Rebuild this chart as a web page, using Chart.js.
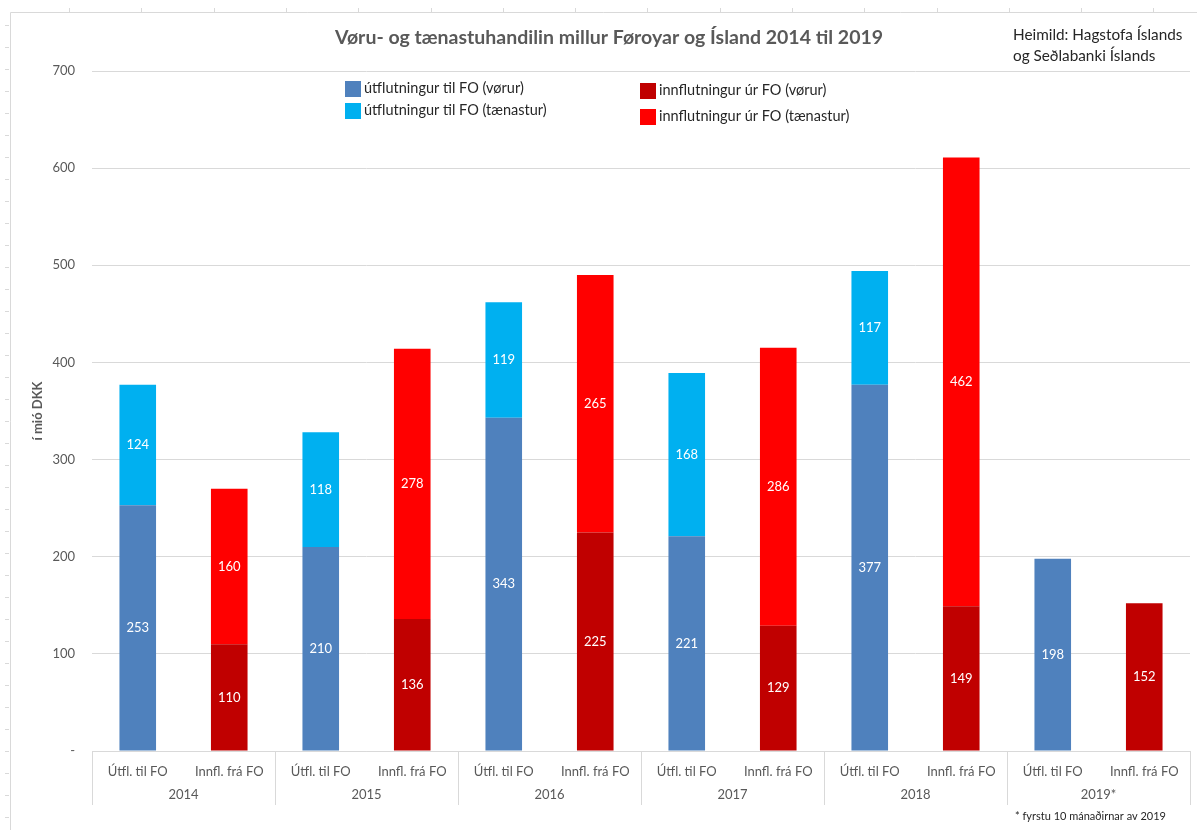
<!DOCTYPE html>
<html>
<head>
<meta charset="utf-8">
<script src="https://cdn.jsdelivr.net/npm/chart.js@4/dist/chart.umd.min.js"></script>
<style>
  body { margin: 0; background: #fff; }
  #wrap { width: 1197px; height: 830px; position: relative; }
</style>
</head>
<body>
<div id="wrap"><canvas id="myChart" width="1197" height="830"></canvas></div>
<script>
var years = ["2014", "2015", "2016", "2017", "2018", "2019*"];
var barLabels = ["Útfl. til FO", "Innfl. frá FO"];

// utflutningur (til FO) og innflutningur (úr FO), mió DKK
var utVorur = [253, 210, 343, 221, 377, 198];
var utTaenastur = [124, 118, 119, 168, 117, null];
var innVorur = [110, 136, 225, 129, 149, 152];
var innTaenastur = [160, 278, 265, 286, 462, null];

var yTicks = [0, 100, 200, 300, 400, 500, 600, 700];

var legendNames = [
  "útflutningur til FO (vørur)",
  "útflutningur til FO (tænastur)",
  "innflutningur úr FO (vørur)",
  "innflutningur úr FO (tænastur)",
];
var litir = ["#4F81BD", "#00B0F0", "#C00000", "#FF0000"];

var FONT = "Lato, 'Open Sans', sans-serif";

// 12 bars: two per year
var labels = [];
var d1 = [], d2 = [], d3 = [], d4 = [];
for (var i = 0; i < years.length; i++) {
  labels.push(barLabels[0]);
  labels.push(barLabels[1]);
  d1.push(utVorur[i]); d1.push(null);
  d2.push(utTaenastur[i]); d2.push(null);
  d3.push(null); d3.push(innVorur[i]);
  d4.push(null); d4.push(innTaenastur[i]);
}

var rammi = {
  id: "rammi",
  beforeDraw: function (chart) {
    var c = chart.ctx;
    c.save();
    c.strokeStyle = "#d9d9d9";
    c.lineWidth = 1;
    c.beginPath();
    c.moveTo(10.5, 830); c.lineTo(10.5, 12.5); c.lineTo(1197, 12.5);
    for (var x = 69; x < 1197; x += 72.3) {
      c.moveTo(Math.round(x) + 0.5, 8); c.lineTo(Math.round(x) + 0.5, 12);
    }
    for (var y = 25; y < 830; y += 22) {
      c.moveTo(5, Math.round(y) + 0.5); c.lineTo(9, Math.round(y) + 0.5);
    }
    c.stroke();
    c.restore();
  },
  afterDraw: function (chart) {
    var c = chart.ctx;
    var xs = chart.scales.x;
    var area = chart.chartArea;
    c.save();

    // heiti
    c.fillStyle = "#595959";
    c.font = "bold 19.5px " + FONT;
    c.textAlign = "center";
    c.textBaseline = "middle";
    c.fillText("Vøru- og tænastuhandilin millur Føroyar og Ísland 2014 til 2019", 609, 38);

    // kelda
    c.fillStyle = "#262626";
    c.font = "15.3px " + FONT;
    c.textAlign = "left";
    c.fillText("Heimild: Hagstofa Íslands", 1013, 35);
    c.fillText("og Seðlabanki Íslands", 1013, 56);

    // legend
    c.font = "14.5px " + FONT;
    var pos = [[345, 89], [345, 111], [640, 91], [640, 117]];
    for (var k = 0; k < 4; k++) {
      c.fillStyle = litir[k];
      c.fillRect(pos[k][0], pos[k][1] - 8, 16, 16);
      c.fillStyle = "#262626";
      c.fillText(legendNames[k], pos[k][0] + 19, pos[k][1] - 1);
    }

    // y axis title
    c.save();
    c.translate(38, 411);
    c.rotate(-Math.PI / 2);
    c.fillStyle = "#595959";
    c.font = "bold 13px " + FONT;
    c.textAlign = "center";
    c.fillText("í mió DKK", 0, 0);
    c.restore();

    // year groups
    var step = (area.right - area.left) / years.length;
    c.strokeStyle = "#d9d9d9";
    c.beginPath();
    for (var g = 0; g <= years.length; g++) {
      var gx = Math.round(area.left + g * step) + 0.5;
      c.moveTo(gx, area.bottom); c.lineTo(gx, 805);
    }
    c.stroke();
    c.fillStyle = "#595959";
    c.font = "13px " + FONT;
    c.textAlign = "center";
    for (var g2 = 0; g2 < years.length; g2++) {
      var mid = (xs.getPixelForValue(g2 * 2) + xs.getPixelForValue(g2 * 2 + 1)) / 2;
      c.fillText(years[g2], mid, 795);
    }

    // footnote
    c.fillStyle = "#262626";
    c.font = "11px " + FONT;
    c.textAlign = "left";
    c.fillText("* fyrstu 10 mánaðirnar av 2019", 1015, 816);

    // value labels
    c.fillStyle = "#ffffff";
    c.font = "13px " + FONT;
    c.textAlign = "center";
    chart.data.datasets.forEach(function (ds, di) {
      chart.getDatasetMeta(di).data.forEach(function (bar, j) {
        if (ds.data[j] == null) return;
        c.fillText(String(ds.data[j]), bar.x, (bar.y + bar.base) / 2);
      });
    });
    c.restore();
  },
};

var ctx = document.getElementById("myChart");
var myChart = new Chart(ctx, {
  type: "bar",
  data: {
    labels: labels,
    datasets: [
      { label: legendNames[0], data: d1, backgroundColor: litir[0] },
      { label: legendNames[1], data: d2, backgroundColor: litir[1] },
      { label: legendNames[2], data: d3, backgroundColor: litir[2] },
      { label: legendNames[3], data: d4, backgroundColor: litir[3] },
    ],
  },
  options: {
    responsive: false,
    animation: false,
    devicePixelRatio: 1,
    datasets: { bar: { barPercentage: 0.4, categoryPercentage: 1, skipNull: false } },
    layout: { padding: { left: 10, top: 71, right: 7, bottom: 0 } },
    plugins: { legend: { display: false }, tooltip: { enabled: false } },
    scales: {
      x: {
        stacked: true,
        grid: { display: false },
        border: { display: true, color: "#d9d9d9" },
        ticks: { color: "#595959", font: { family: FONT, size: 13 }, padding: 5, maxRotation: 0, autoSkip: false },
        afterFit: function (s) { s.height = 830 - 751; },
      },
      y: {
        stacked: true,
        min: 0,
        max: 700,
        afterBuildTicks: function (s) { s.ticks = yTicks.map(function (v) { return { value: v }; }); },
        grid: { color: "#d9d9d9", drawTicks: false },
        border: { display: false },
        ticks: {
          color: "#595959",
          font: { family: FONT, size: 13 },
          padding: 17,
          callback: function (v) { return v === 0 ? "-" : v; },
        },
        afterFit: function (s) { s.width = 92 - 10; },
      },
    },
  },
  plugins: [rammi],
});
</script>
</body>
</html>
